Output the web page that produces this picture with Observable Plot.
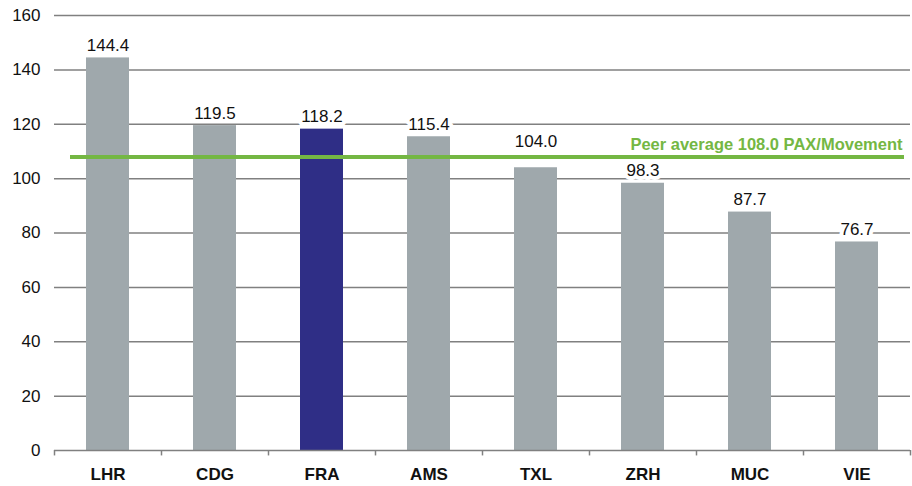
<!DOCTYPE html>
<html>
<head>
<meta charset="utf-8">
<script src="https://cdn.jsdelivr.net/npm/d3@7"></script>
<script src="https://cdn.jsdelivr.net/npm/@observablehq/plot@0.6"></script>
<style>
  body { margin: 0; background: #fff; }
  #chart svg { font-family: "Liberation Sans", Arial, sans-serif; }
</style>
</head>
<body>
<div id="chart"></div>
<script>
const airports = ["LHR", "CDG", "FRA", "AMS", "TXL", "ZRH", "MUC", "VIE"];
const paxPerMovement = [144.4, 119.5, 118.2, 115.4, 104.0, 98.3, 87.7, 76.7];
const highlighted = ["FRA"];
const peerAverage = 108.0;
const peerLabel = "Peer average 108.0 PAX/Movement";
const yTicks = [0, 20, 40, 60, 80, 100, 120, 140, 160];

const data = airports.map((a, i) => ({airport: a, value: paxPerMovement[i]}));

const width = 912, height = 486;
const marginLeft = 54, marginRight = 2;
const step = (width - marginLeft - marginRight) / airports.length;

// labels that must clear the peer-average line are lifted a little
const raised = ["TXL"];
const labelMark = (rows, dy) => Plot.text(rows, {
  x: "airport", y: "value", text: d => d.value.toFixed(1),
  lineAnchor: "bottom", dy, fontSize: 17, fill: "#111",
  stroke: "#fff", strokeWidth: 8
});

const chart = Plot.plot({
  width, height,
  marginLeft, marginRight,
  marginTop: 15, marginBottom: 36,
  style: {fontFamily: '"Liberation Sans", Arial, sans-serif', fontSize: "17px", color: "#111", background: "#fff"},
  x: {domain: airports, paddingInner: 0.6, paddingOuter: 0.3, align: 0.5, label: null},
  y: {domain: [0, 160], label: null},
  marks: [
    Plot.ruleY(yTicks.filter(d => d > 0), {stroke: "#808080", strokeWidth: 1.5}),
    Plot.barY(data, {
      x: "airport", y: "value",
      fill: d => highlighted.includes(d.airport) ? "#2f2e86" : "#9fa8ac"
    }),
    Plot.ruleY([0], {stroke: "#808080", strokeWidth: 1.5}),
    Plot.ruleX(airports, {x: d => d, dx: -step / 2, y1: 0, y2: -2, stroke: "#808080", strokeWidth: 1.5}),
    Plot.ruleX(airports.slice(-1), {x: d => d, dx: step / 2, y1: 0, y2: -2, stroke: "#808080", strokeWidth: 1.5}),
    labelMark(data.filter(d => !raised.includes(d.airport)), -7),
    labelMark(data.filter(d => raised.includes(d.airport)), -21),
    Plot.ruleY([peerAverage], {stroke: "#74b743", strokeWidth: 4, insetLeft: 16, insetRight: 6}),
    Plot.text([peerAverage], {
      y: d => d, frameAnchor: "right", text: () => peerLabel,
      textAnchor: "end", lineAnchor: "bottom", dy: -7, dx: -8,
      fontSize: 16.5, fontWeight: "bold", fill: "#74b743"
    }),
    Plot.axisY({ticks: yTicks, tickSize: 0, tickPadding: 14, fontSize: 17, label: null}),
    Plot.axisX({tickSize: 0, tickPadding: 17, fontSize: 17, fontWeight: "bold", label: null})
  ]
});
document.getElementById("chart").appendChild(chart);
</script>
</body>
</html>
